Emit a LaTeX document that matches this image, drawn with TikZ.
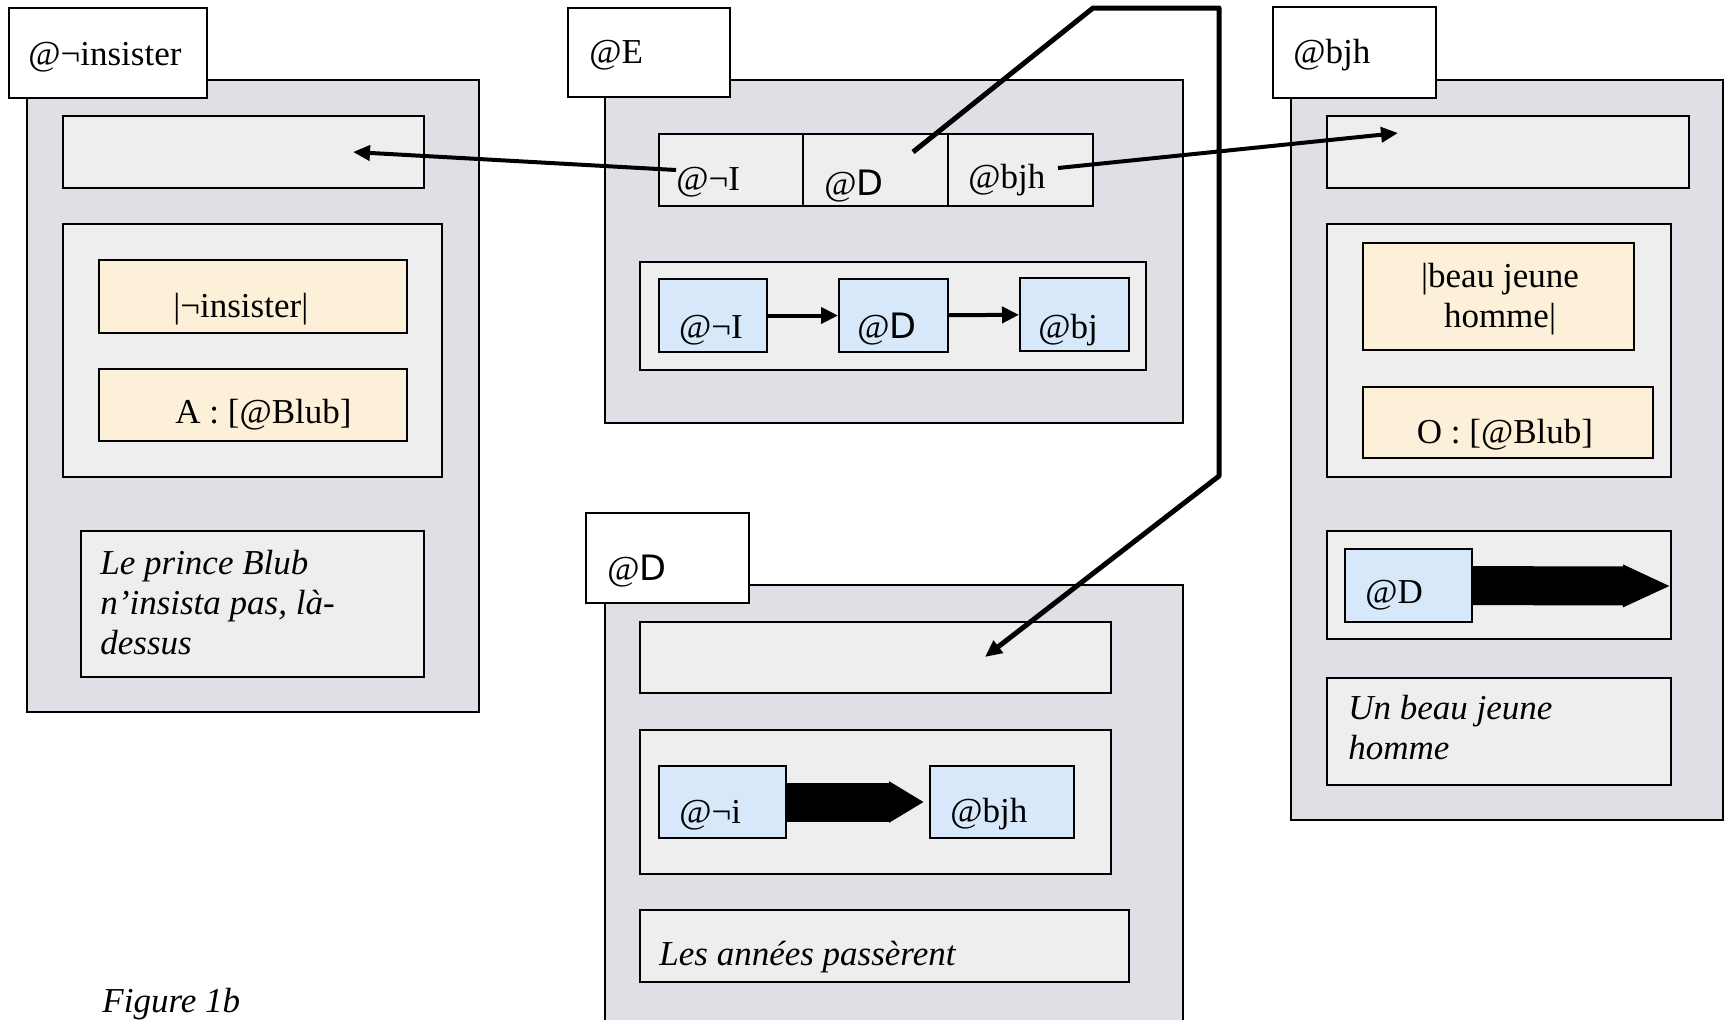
\documentclass[tikz,border=0pt]{standalone}
\usepackage{fontspec}
\setmainfont{Liberation Serif}
\newfontfamily\sansD{DejaVu Sans}
\usepackage{tikz}
\usetikzlibrary{
	arrows.meta,
	positioning,
	fit
}
\definecolor{Marble}{RGB}{222,224,229}
\definecolor{Grain}{RGB}{238,238,238}
\definecolor{Peach}{RGB}{253,240,217}
\definecolor{IceBlue}{RGB}{214,232,249}
\newcommand{\Dsym}{{\sansD D}}

\tikzset{
	every node/.style={font=\fontsize{17.5}{20}\selectfont},
	tagbox/.style={draw, line width=1pt, fill=white, inner sep=0pt},
	panel/.style={draw, line width=1pt, fill=Marble, inner sep=0pt},
	grain/.style={draw, line width=1pt, fill=Grain, inner sep=0pt},
	lexbox/.style={draw, line width=1pt, fill=Peach, inner sep=0pt},
	refbox/.style={draw, line width=1pt, fill=IceBlue, inner sep=0pt},
	txt/.style={inner sep=0pt},
	prose/.style={inner sep=0pt, align=left, font=\fontsize{17.5}{20}\selectfont\itshape},
	link/.style={line width=2pt, -{Triangle[length=8.5pt,width=7.5pt]}},
	seq/.style={line width=2pt, -{Triangle[length=8.5pt,width=8pt]}},
	jump/.style={line width=2.5pt, line join=round, -{Triangle[length=8.5pt,width=7.5pt]}},
	block/.style={line width=19.5pt, -{Triangle[length=#1,width=19.5pt]}}
}

\begin{document}
\begin{tikzpicture}[x=0.5pt,y=-0.5pt]
	\useasboundingbox[fill=white] (0,0) rectangle (1725,1019);

	% @insister
	\node[panel, fit={(27,80) (479,712)}] (insP) {};
	\node[tagbox, fit={(9,8) (207,98)}] (insLab) {};
	\node[txt, anchor=base west] (insLabT) at (28,65) {@¬insister};
	\node[grain, fit={(63,116) (424,188)}] (insTop) {};
	\node[grain, fit={(63,224) (442,477)}] (insMid) {};
	\node[lexbox, fit={(99,260) (407,333)}] (insLex) {};
	\node[txt, anchor=base west] (insLexT) at (173,317) {|¬insister|};
	\node[lexbox, fit={(99,369) (407,441)}] (insArg) {};
	\node[txt, anchor=base west] (insArgT) at (175,423) {A : [@Blub]};
	\node[grain, fit={(81,531) (424,677)}] (insTxt) {};
	\node[prose, anchor=north west] (insTxtT) at (100,550) {Le prince Blub\\n’insista pas, là-\\dessus};

	% @E
	\node[panel, fit={(605,80) (1183,423)}] (eP) {};
	\node[tagbox, fit={(568,8) (730,97)}] (eLab) {};
	\node[txt, anchor=base west] (eLabT) at (589,63) {@E};
	\node[grain, fit={(659,134) (803,206)}] (eC1) {};
	\node[grain, fit={(803,134) (948,206)}] (eC2) {};
	\node[grain, fit={(948,134) (1093,206)}] (eC3) {};
	\node[txt, anchor=base west] (eC1T) at (676,190) {@¬I};
	\node[txt, anchor=base west] (eC2T) at (824,195) {@\Dsym};
	\node[txt, anchor=base west] (eC3T) at (968,188) {@bjh};
	\node[grain, fit={(640,262) (1146,370)}] (eLow) {};
	\node[refbox, fit={(659,279) (767,352)}] (eB1) {};
	\node[refbox, fit={(839,279) (948,352)}] (eB2) {};
	\node[refbox, fit={(1020,278) (1129,351)}] (eB3) {};
	\node[txt, anchor=base] (eB1T) at (711,338) {@¬I};
	\node[txt, anchor=base] (eB2T) at (887,338) {@\Dsym};
	\node[txt, anchor=base] (eB3T) at (1068,338) {@bj};
	\draw[seq] (eB1) -- (eB2);
	\draw[seq] (eB2) -- (eB3);

	% @bjh
	\node[panel, fit={(1291,80) (1723,820)}] (bP) {};
	\node[tagbox, fit={(1273,7) (1436,98)}] (bLab) {};
	\node[txt, anchor=base west] (bLabT) at (1293,63) {@bjh};
	\node[grain, fit={(1327,116) (1689,188)}] (bTop) {};
	\node[grain, fit={(1327,224) (1671,477)}] (bMid) {};
	\node[lexbox, fit={(1363,243) (1634,350)}] (bLex) {};
	\node[txt, align=center] (bLexT) at (1500,299) {|beau jeune\\homme|};
	\node[lexbox, fit={(1363,387) (1653,458)}] (bArg) {};
	\node[txt, anchor=base] (bArgT) at (1505,443) {O : [@Blub]};
	\node[grain, fit={(1327,531) (1671,639)}] (bRel) {};
	\node[refbox, fit={(1345,549) (1472,622)}] (bB1) {};
	\node[txt, anchor=base west] (bB1T) at (1365,603) {@D};
	\coordinate (bEnd) at (1671,586);
	\draw[block=24pt] (bB1) -- (bEnd);
	\node[grain, fit={(1327,678) (1671,785)}] (bTxt) {};
	\node[prose, anchor=north west] (bTxtT) at (1348,695) {Un beau jeune\\homme};

	% @D
	\node[panel, fit={(605,585) (1183,1040)}] (dP) {};
	\node[tagbox, fit={(586,513) (749,603)}] (dLab) {};
	\node[txt, anchor=base west] (dLabT) at (607,580) {@\Dsym};
	\node[grain, fit={(640,622) (1111,693)}] (dTop) {};
	\node[grain, fit={(640,730) (1111,874)}] (dMid) {};
	\node[refbox, fit={(659,766) (786,838)}] (dB1) {};
	\node[refbox, fit={(930,766) (1074,838)}] (dB2) {};
	\node[txt, anchor=base west] (dB1T) at (679,823) {@¬i};
	\node[txt, anchor=base west] (dB2T) at (950,822) {@bjh};
	\draw[block=17.5pt, shorten >=2.5pt] (dB1) -- (dB2);
	\node[grain, fit={(640,910) (1129,982)}] (dTxt) {};
	\node[prose, anchor=base west] (dTxtT) at (659,965) {Les années passèrent};

	% links between the frames
	\coordinate (eOutL) at (676,170);
	\coordinate (insIn) at (353,152);
	\coordinate (eOutR) at (1058,168);
	\coordinate (bIn) at (1398,133);
	\coordinate (eOutD) at (913,152);
	\coordinate (dIn) at (985,657);
	\draw[link] (eOutL) -- (insIn);
	\draw[link] (eOutR) -- (bIn);
	\draw[jump] (eOutD) -- (1093,8) -- (1219,8) -- (1219,476) -- (dIn);

	\node[prose, anchor=base west] (figT) at (102,1012) {Figure 1b};
\end{tikzpicture}
\end{document}
